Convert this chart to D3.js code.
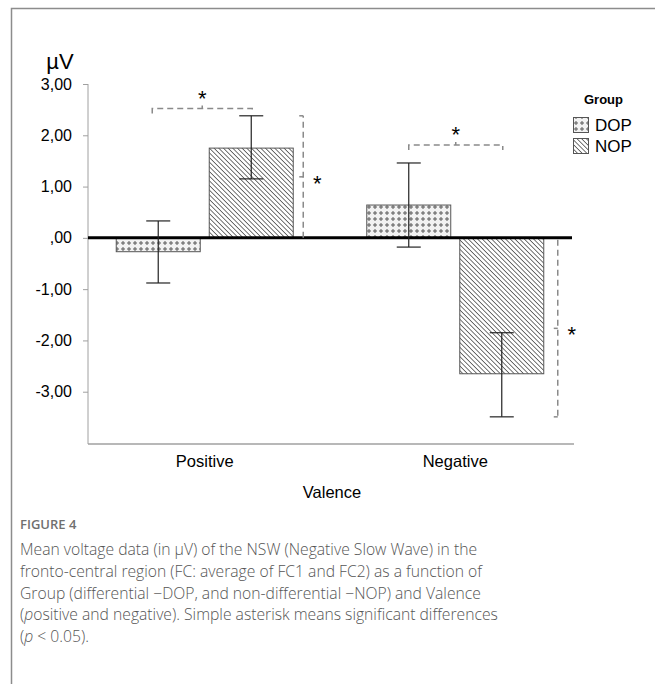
<!DOCTYPE html>
<html>
<head>
<meta charset="utf-8">
<script src="https://cdn.jsdelivr.net/npm/d3@7"></script>
<style>
  body { margin: 0; background: #fff; }
  svg { display: block; }
</style>
</head>
<body>
<div id="chart"></div>
<script>
// values (µV)
const valences = ["Positive", "Negative"];
const groups = ["DOP", "NOP"];
const dopMeans = [-0.27, 0.64];
const dopLower = [-0.88, -0.18];
const dopUpper = [0.33, 1.46];
const nopMeans = [1.75, -2.65];
const nopLower = [1.15, -3.49];
const nopUpper = [2.38, -1.85];
const yTicks = [3, 2, 1, 0, -1, -2, -3];
// height of the horizontal significance brackets, per valence
const bracketLevels = [2.52, 1.81];
const captionTitle = "FIGURE 4";
const captionLines = [
  "Mean voltage data (in \u00b5V) of the NSW (Negative Slow Wave) in the",
  "fronto-central region (FC: average of FC1 and FC2) as a function of",
  "Group (differential \u2212DOP, and non-differential \u2212NOP) and Valence",
  "(positive and negative). Simple asterisk means significant differences",
  "(p < 0.05)."
];

const width = 655, height = 684;
const margin = {top: 84, left: 88, right: 572, bottom: 443};
const font = "'Liberation Sans', Arial, sans-serif";

const rows = [];
valences.forEach((v, i) => {
  rows.push({valence: v, group: "DOP", mean: dopMeans[i], lo: dopLower[i], hi: dopUpper[i]});
  rows.push({valence: v, group: "NOP", mean: nopMeans[i], lo: nopLower[i], hi: nopUpper[i]});
});

const svg = d3.select("#chart").append("svg")
  .attr("width", width).attr("height", height)
  .attr("viewBox", [0, 0, width, height]);

const defs = svg.append("defs");
const dop = defs.append("pattern").attr("id", "pat-dop")
  .attr("patternUnits", "userSpaceOnUse").attr("width", 6).attr("height", 6);
dop.append("rect").attr("width", 6).attr("height", 6).attr("fill", "#f2f2f2");
dop.append("path").attr("d", "M3,1V5M1,3H5")
  .attr("stroke", "#5a5a5a").attr("stroke-width", 1);
const nop = defs.append("pattern").attr("id", "pat-nop")
  .attr("patternUnits", "userSpaceOnUse").attr("width", 3.3).attr("height", 3.3)
  .attr("patternTransform", "rotate(-45)");
nop.append("rect").attr("width", 3.3).attr("height", 3.3).attr("fill", "#fff");
nop.append("line").attr("x1", 0).attr("y1", 0).attr("x2", 0).attr("y2", 3.3)
  .attr("stroke", "#3a3a3a").attr("stroke-width", 1.4);
const fills = {DOP: "url(#pat-dop)", NOP: "url(#pat-nop)"};

// frame around the figure
svg.append("path").attr("d", `M11.5,${height}V8.5H${width}`)
  .attr("fill", "none").attr("stroke", "#8c8c8c").attr("stroke-width", 1.5);

const y = d3.scaleLinear().domain([-4, 3]).range([margin.bottom, margin.top]);
const x0 = d3.scalePoint().domain(valences).range([margin.left, margin.right]).padding(0.466);
const x1 = d3.scaleBand().domain(groups).range([-88.5, 88.5]).paddingInner(0.097);
const cx = d => x0(d.valence) + x1(d.group) + x1.bandwidth() / 2;

// y axis
const yAxis = svg.append("g").attr("transform", `translate(${margin.left},0)`)
  .call(d3.axisLeft(y).tickValues(yTicks).tickSize(5).tickPadding(11)
    .tickFormat(d => d === 0 ? ",00" : d3.format(".2f")(d).replace(".", ",").replace("\u2212", "-")));
yAxis.select(".domain").attr("d", `M0,${margin.top}V${margin.bottom + 1}`);
yAxis.selectAll("line, .domain").attr("stroke", "#a0a0a0");
yAxis.selectAll("text").attr("fill", "#000").style("font", `16px ${font}`);

// x axis
svg.append("line").attr("x1", margin.left).attr("x2", margin.right + 2)
  .attr("y1", margin.bottom + 1).attr("y2", margin.bottom + 1)
  .attr("stroke", "#a0a0a0").attr("stroke-width", 1.5);
svg.append("g").selectAll("text").data(valences).join("text")
  .attr("x", d => x0(d)).attr("y", 467).attr("text-anchor", "middle")
  .style("font", `16.5px ${font}`).text(d => d);

svg.append("text").attr("x", 332).attr("y", 498).attr("text-anchor", "middle")
  .style("font", `16.5px ${font}`).text("Valence");
svg.append("text").attr("x", 60).attr("y", 69).attr("text-anchor", "middle")
  .style("font", `22px ${font}`).text("\u00b5V");

// bars
svg.append("g").selectAll("rect").data(rows).join("rect")
  .attr("x", d => x0(d.valence) + x1(d.group))
  .attr("width", x1.bandwidth())
  .attr("y", d => y(Math.max(0, d.mean)))
  .attr("height", d => Math.abs(y(d.mean) - y(0)))
  .attr("fill", d => fills[d.group])
  .attr("stroke", "#555").attr("stroke-width", 1);

// zero line
svg.append("line").attr("x1", margin.left).attr("x2", margin.right)
  .attr("y1", y(0)).attr("y2", y(0))
  .attr("stroke", "#000").attr("stroke-width", 3);

// error bars
const eb = svg.append("g").attr("stroke", "#222").attr("stroke-width", 1.2);
rows.forEach(d => {
  const c = cx(d);
  eb.append("line").attr("x1", c).attr("x2", c).attr("y1", y(d.hi)).attr("y2", y(d.lo));
  [d.hi, d.lo].forEach(v => eb.append("line")
    .attr("x1", c - 12).attr("x2", c + 12).attr("y1", y(v)).attr("y2", y(v)));
});

// significance brackets
const br = svg.append("g").attr("fill", "none").attr("stroke", "#8a8a8a")
  .attr("stroke-width", 1.5).attr("stroke-dasharray", "6,4");
const star = (xx, yy) => svg.append("text").attr("x", xx).attr("y", yy)
  .attr("text-anchor", "middle").style("font", `22px ${font}`).text("*");

valences.forEach((v, i) => {
  const a = rows[i * 2], b = rows[i * 2 + 1];
  const ax = cx(a) - (i === 0 ? 6 : 0), bx = cx(b) + 1;
  const by = y(bracketLevels[i]);
  br.append("path").attr("d", `M${ax},${by + 5}V${by}H${bx}V${by + 5}`);
  br.append("path").attr("d", `M${(ax + bx) / 2},${by}v-3`).attr("stroke-dasharray", null);
  star((ax + bx) / 2, by - 3);

  // vertical bracket between zero and the NOP error bar
  const vx = x0(v) + x1("NOP") + x1.bandwidth() + (i === 0 ? 10 : 14);
  const yEnd = i === 0 ? y(b.hi) : y(b.lo);
  const y0 = y(0) + (i === 0 ? 0 : 2);
  br.append("path").attr("d", `M${vx},${y0}V${yEnd}`);
  br.append("path").attr("d", `M${vx - 4},${yEnd}H${vx}`).attr("stroke-dasharray", null);
  const mid = (y0 + yEnd) / 2;
  br.append("path").attr("d", `M${vx},${mid}h-4`).attr("stroke-dasharray", null);
  star(vx + 14, mid + 14);
});

// legend
const lg = svg.append("g").attr("transform", "translate(573,0)");
lg.append("text").attr("x", 11).attr("y", 104)
  .style("font", `bold 13px ${font}`).text("Group");
groups.forEach((g, i) => {
  lg.append("rect").attr("x", 0.5).attr("y", 117.5 + i * 21).attr("width", 15).attr("height", 15)
    .attr("fill", fills[g]).attr("stroke", "#555");
  lg.append("text").attr("x", 22).attr("y", 131 + i * 21)
    .style("font", `17px ${font}`).text(g);
});

// caption
svg.append("text").attr("x", 20).attr("y", 529).attr("fill", "#707070")
  .style("font", "600 13px 'Open Sans', sans-serif").text(captionTitle);
const cap = svg.append("text").attr("fill", "#555")
  .style("font", "300 15.7px 'Open Sans', sans-serif");
captionLines.forEach((t, i) => {
  const tl = cap.append("tspan").attr("x", 20).attr("y", 555 + i * 21.8);
  if (t.startsWith("(p")) {
    tl.text("(");
    tl.append("tspan").style("font-style", "italic").text("p");
    tl.append("tspan").text(t.slice(2));
  } else tl.text(t);
});
</script>
</body>
</html>
